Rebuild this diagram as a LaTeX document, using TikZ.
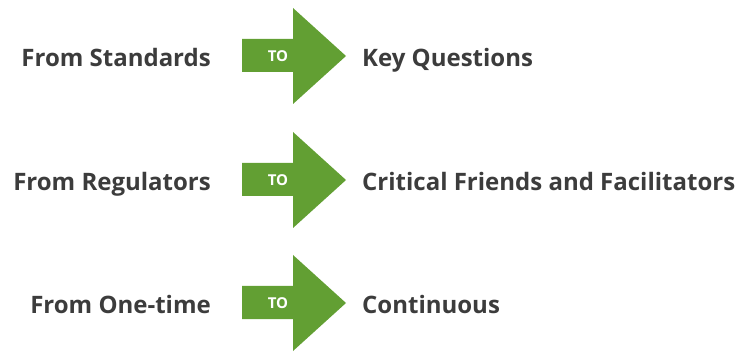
\documentclass[tikz,border=0pt]{standalone}
\usepackage{fontspec}
\setmainfont{Open Sans}
\usepackage{tikz}
\usetikzlibrary{positioning}
\definecolor{leafgreen}{HTML}{629F33}
\definecolor{inkgray}{HTML}{3C3C3C}

\begin{document}
\begin{tikzpicture}[x=1pt, y=-1pt,
      move/.style={
        fill=leafgreen,
        draw=none,
      },
      side/.style={
        inner sep=0pt,
        text=inkgray,
        font=\fontsize{24}{28}\selectfont\bfseries,
      },
      tomark/.style={
        inner sep=0pt,
        text=white,
        font=\fontsize{15}{17}\selectfont\bfseries,
      }]
      \useasboundingbox (0,0) rectangle (738,352);
      % three rows: old way, arrow, new way
      \foreach \c/\old/\new [count=\i] in {56/From Standards/Key Questions,
          180/From Regulators/Critical Friends and Facilitators,
          303/From One-time/Continuous} {
        \fill[move] (242,\c-17) -- (293,\c-17) -- (293,\c-48) -- (346,\c)
          -- (293,\c+48) -- (293,\c+16) -- (242,\c+16) -- cycle;
        \node[tomark] (to\i) at (278,\c) {TO};
        \node[side, anchor=base east] (old\i) at (211,\c+10.5) {\old};
        \node[side, anchor=base west] (new\i) at (362,\c+10.5) {\new};
      }
    \end{tikzpicture}
\end{document}
